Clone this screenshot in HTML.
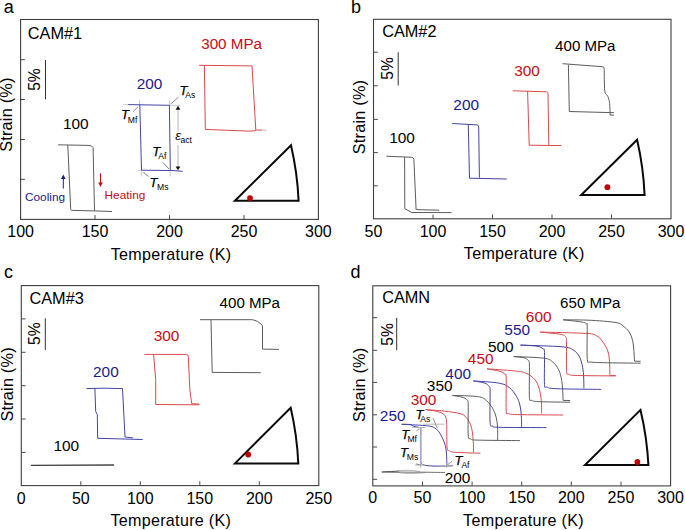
<!DOCTYPE html>
<html><head><meta charset="utf-8">
<style>
html,body{margin:0;padding:0;background:#fff;}
svg{display:block;}
text{font-family:"Liberation Sans",sans-serif;}
</style></head>
<body>
<svg width="685" height="530" viewBox="0 0 685 530">
<rect width="685" height="530" fill="#fff"/>
<text x="3.8" y="13.4" font-size="18" fill="#000">a</text>
<rect x="20.6" y="19.5" width="297.8" height="199.9" fill="none" stroke="#404040" stroke-width="1.1"/>
<g stroke="#4a4a4a" stroke-width="1"><line x1="20.6" y1="59.7" x2="24.9" y2="59.7"/><line x1="20.6" y1="99.5" x2="24.9" y2="99.5"/><line x1="20.6" y1="139.5" x2="24.9" y2="139.5"/><line x1="20.6" y1="179.3" x2="24.9" y2="179.3"/><line x1="95" y1="219.4" x2="95" y2="215.1"/><line x1="169.5" y1="219.4" x2="169.5" y2="215.1"/><line x1="244" y1="219.4" x2="244" y2="215.1"/></g>
<line x1="45.5" y1="60" x2="45.5" y2="99.2" stroke="#333" stroke-width="1"/>
<text transform="translate(39.7,79.6) rotate(-90)" font-size="15.6" text-anchor="middle" fill="#000">5%</text>
<text transform="translate(12.4,114.6) rotate(-90)" font-size="16.3" text-anchor="middle" fill="#000" letter-spacing="0.2">Strain (%)</text>
<text x="20.6" y="237.1" font-size="16" fill="#000" text-anchor="middle">100</text>
<text x="95" y="237.1" font-size="16" fill="#000" text-anchor="middle">150</text>
<text x="169.5" y="237.1" font-size="16" fill="#000" text-anchor="middle">200</text>
<text x="244" y="237.1" font-size="16" fill="#000" text-anchor="middle">250</text>
<text x="318.4" y="237.1" font-size="16" fill="#000" text-anchor="middle">300</text>
<text x="171.1" y="259.6" font-size="16.1" fill="#000" text-anchor="middle" letter-spacing="0.3">Temperature (K)</text>
<text x="27.8" y="38.8" font-size="16.3" fill="#000">CAM#1</text>
<path d="M58.2,144.8 L88,145.4 Q92.6,145.5 93.1,147.6 L94.5,210.9 L112,211.5" fill="none" stroke="#5c5c5c" stroke-width="1" stroke-linejoin="round" stroke-linecap="butt"/>
<path d="M67.8,145.1 L70.7,209.6 Q70.9,210.4 72.2,210.4 L94.5,210.9" fill="none" stroke="#5c5c5c" stroke-width="1" stroke-linejoin="round" stroke-linecap="butt"/>
<text x="75.8" y="129.2" font-size="15.4" fill="#000" text-anchor="middle">100</text>
<line x1="63.3" y1="188.5" x2="63.3" y2="178.5" stroke="#1a1a8c" stroke-width="1"/>
<path d="M63.3,174.6 L61,179 L65.6,179 Z" fill="#1a1a8c"/>
<text x="25" y="200.9" font-size="11.8" fill="#1a1a8c">Cooling</text>
<line x1="100.5" y1="173.3" x2="100.5" y2="183" stroke="#c80a14" stroke-width="1"/>
<path d="M100.5,187 L98.2,182.5 L102.8,182.5 Z" fill="#c80a14"/>
<text x="104.6" y="198.5" font-size="11.8" fill="#c80a14">Heating</text>
<g stroke="#bbb" stroke-width="0.8"><line x1="123.2" y1="104.6" x2="128.5" y2="104.6"/><line x1="139.5" y1="99.8" x2="139.5" y2="104.6"/><line x1="169.4" y1="99.8" x2="169.4" y2="105.3"/><line x1="169.4" y1="105.3" x2="180.6" y2="105.3"/><line x1="137.9" y1="170.4" x2="141.3" y2="170.4"/><line x1="141.3" y1="170.4" x2="141.3" y2="176.4"/><line x1="170.2" y1="170.4" x2="170.2" y2="176.4"/></g>
<g stroke="#555" stroke-width="0.7"><line x1="133.1" y1="111.7" x2="137.8" y2="107"/><line x1="170.8" y1="104" x2="178.4" y2="97.2"/><line x1="143.4" y1="172.5" x2="148.7" y2="176.4"/><line x1="162.8" y1="162.3" x2="169.1" y2="169.1"/></g>
<path d="M128.2,104.6 L169.4,105.3 L170.3,170.4 L182.7,171.3" fill="none" stroke="#4444a6" stroke-width="1" stroke-linejoin="round" stroke-linecap="butt"/>
<path d="M139.8,104.6 L141.5,170.2 L170.3,170.5" fill="none" stroke="#4444a6" stroke-width="1" stroke-linejoin="round" stroke-linecap="butt"/>
<text x="149.5" y="88.6" font-size="15.4" fill="#1a1a8c" text-anchor="middle">200</text>
<line x1="178" y1="109" x2="178" y2="131.4" stroke="#d0d0d0" stroke-width="1.6"/>
<line x1="178" y1="145" x2="178" y2="167" stroke="#d0d0d0" stroke-width="1.6"/>
<path d="M178,105.8 L175.6,109.8 L180.4,109.8 Z" fill="#111"/>
<path d="M178,170.2 L175.6,166.4 L180.4,166.4 Z" fill="#111"/>
<text x="121.1" y="119.2" font-size="13" font-style="italic" fill="#000" stroke="#000" stroke-width="0.25">T</text>
<text x="127.8" y="122.5" font-size="8.6" fill="#000">Mf</text>
<text x="179.4" y="94.9" font-size="13" font-style="italic" fill="#000" stroke="#000" stroke-width="0.25">T</text>
<text x="185.2" y="98.1" font-size="8.6" fill="#000">As</text>
<text x="152.2" y="156.3" font-size="13" font-style="italic" fill="#000" stroke="#000" stroke-width="0.25">T</text>
<text x="158.2" y="159.4" font-size="8.6" fill="#000">Af</text>
<text x="149.4" y="186.6" font-size="13" font-style="italic" fill="#000" stroke="#000" stroke-width="0.25">T</text>
<text x="157" y="189.5" font-size="8.6" fill="#000">Ms</text>
<text x="175.2" y="140.1" font-size="13" font-style="italic" fill="#000">ε</text>
<text x="180.5" y="142.8" font-size="8.6" fill="#000">act</text>
<path d="M199.2,65.3 L252,65.9 L255.8,130 L262,130.2" fill="none" stroke="#d94a4e" stroke-width="1" stroke-linejoin="round" stroke-linecap="butt"/>
<path d="M204.4,65.4 L205.3,129.4 L250.8,131.2 L255.8,130.5" fill="none" stroke="#d94a4e" stroke-width="1" stroke-linejoin="round" stroke-linecap="butt"/>
<line x1="258" y1="130.2" x2="266.7" y2="130.2" stroke="#aaa" stroke-width="0.8"/>
<text x="201.2" y="48.9" font-size="15.2" fill="#c80a14">300 MPa</text>
<path d="M234.9,200.8 L298.6,200.8 Q297.4,173.05 291,145.3 Z" fill="none" stroke="#0a0a0a" stroke-width="2" stroke-linejoin="miter"/>
<circle cx="250" cy="198.1" r="2.9" fill="#c00000"/>
<text x="350.9" y="13.3" font-size="18" fill="#000">b</text>
<rect x="373.5" y="19.3" width="297.5" height="199.5" fill="none" stroke="#404040" stroke-width="1.1"/>
<g stroke="#4a4a4a" stroke-width="1"><line x1="373.5" y1="52.2" x2="377.8" y2="52.2"/><line x1="373.5" y1="85.8" x2="377.8" y2="85.8"/><line x1="373.5" y1="119.4" x2="377.8" y2="119.4"/><line x1="373.5" y1="152.6" x2="377.8" y2="152.6"/><line x1="373.5" y1="185.8" x2="377.8" y2="185.8"/><line x1="433" y1="218.8" x2="433" y2="214.5"/><line x1="492.5" y1="218.8" x2="492.5" y2="214.5"/><line x1="552" y1="218.8" x2="552" y2="214.5"/><line x1="611.5" y1="218.8" x2="611.5" y2="214.5"/></g>
<line x1="398.2" y1="52.2" x2="398.2" y2="85.5" stroke="#333" stroke-width="1"/>
<text transform="translate(392.6,68.5) rotate(-90)" font-size="15.6" text-anchor="middle" fill="#000">5%</text>
<text transform="translate(364.6,117) rotate(-90)" font-size="16.3" text-anchor="middle" fill="#000" letter-spacing="0.2">Strain (%)</text>
<text x="373.5" y="236.8" font-size="16" fill="#000" text-anchor="middle">50</text>
<text x="433" y="236.8" font-size="16" fill="#000" text-anchor="middle">100</text>
<text x="492.5" y="236.8" font-size="16" fill="#000" text-anchor="middle">150</text>
<text x="552" y="236.8" font-size="16" fill="#000" text-anchor="middle">200</text>
<text x="611.5" y="236.8" font-size="16" fill="#000" text-anchor="middle">250</text>
<text x="671" y="236.8" font-size="16" fill="#000" text-anchor="middle">300</text>
<text x="524.2" y="258.6" font-size="16.1" fill="#000" text-anchor="middle" letter-spacing="0.3">Temperature (K)</text>
<text x="382.2" y="36.6" font-size="16.3" fill="#000">CAM#2</text>
<path d="M386.3,156.2 L411.8,157.3 Q413.6,157.5 413.9,159.5 L416.1,209.6 L439.2,210.2" fill="none" stroke="#5c5c5c" stroke-width="1" stroke-linejoin="round" stroke-linecap="butt"/>
<path d="M404.6,157.1 L404.8,208.7 L411.8,212.5 L451.4,212.6" fill="none" stroke="#5c5c5c" stroke-width="1" stroke-linejoin="round" stroke-linecap="butt"/>
<text x="402" y="143.3" font-size="15.4" fill="#000" text-anchor="middle">100</text>
<path d="M452.2,123.5 L476.9,124.9 Q478.6,125.2 478.7,127 L479.4,177.7" fill="none" stroke="#4444a6" stroke-width="1" stroke-linejoin="round" stroke-linecap="butt"/>
<path d="M468.3,124.5 L469.5,178.2 L506.8,179" fill="none" stroke="#4444a6" stroke-width="1" stroke-linejoin="round" stroke-linecap="butt"/>
<text x="466.2" y="109.9" font-size="15.4" fill="#1a1a8c" text-anchor="middle">200</text>
<path d="M512.9,90.8 L546.5,91.8 Q548,92 548,93.7 L548.8,145.2" fill="none" stroke="#d94a4e" stroke-width="1" stroke-linejoin="round" stroke-linecap="butt"/>
<path d="M527.6,91 L529.2,145.2 L561.6,145.6" fill="none" stroke="#d94a4e" stroke-width="1" stroke-linejoin="round" stroke-linecap="butt"/>
<text x="527" y="75.5" font-size="15.4" fill="#c80a14" text-anchor="middle">300</text>
<path d="M562.5,63.7 L602.4,66.7 Q604.2,67 604.2,68.8 C604.3,72.48 604.2,86.33 604.8,90.9 C605.4,95.47 607,94.12 607.8,96.2 C608.6,98.28 609.22,100.27 609.6,103.4 C609.98,106.53 610.02,113.07 610.1,115 L614,115.2" fill="none" stroke="#5c5c5c" stroke-width="1" stroke-linejoin="round" stroke-linecap="butt"/>
<path d="M568.4,65 L569.3,111.5 L614,112.7" fill="none" stroke="#5c5c5c" stroke-width="1" stroke-linejoin="round" stroke-linecap="butt"/>
<text x="555.1" y="51" font-size="15.1" fill="#000">400 MPa</text>
<path d="M581.2,195.1 L644.6,195.1 Q643.45,167.4 637.1,139.7 Z" fill="none" stroke="#0a0a0a" stroke-width="2" stroke-linejoin="miter"/>
<circle cx="607.4" cy="187.2" r="2.9" fill="#c00000"/>
<text x="3.9" y="277.6" font-size="18" fill="#000">c</text>
<rect x="21.3" y="285.6" width="297.5" height="200" fill="none" stroke="#404040" stroke-width="1.1"/>
<g stroke="#4a4a4a" stroke-width="1"><line x1="21.3" y1="318.9" x2="25.6" y2="318.9"/><line x1="21.3" y1="352.3" x2="25.6" y2="352.3"/><line x1="21.3" y1="385.7" x2="25.6" y2="385.7"/><line x1="21.3" y1="419" x2="25.6" y2="419"/><line x1="21.3" y1="452.4" x2="25.6" y2="452.4"/><line x1="80.8" y1="485.6" x2="80.8" y2="481.3"/><line x1="140.3" y1="485.6" x2="140.3" y2="481.3"/><line x1="199.8" y1="485.6" x2="199.8" y2="481.3"/><line x1="259.3" y1="485.6" x2="259.3" y2="481.3"/></g>
<line x1="45.3" y1="318.3" x2="45.3" y2="350" stroke="#333" stroke-width="1"/>
<text transform="translate(40.4,333.7) rotate(-90)" font-size="15.6" text-anchor="middle" fill="#000">5%</text>
<text transform="translate(12.8,384.4) rotate(-90)" font-size="16.3" text-anchor="middle" fill="#000" letter-spacing="0.2">Strain (%)</text>
<text x="21.3" y="503.5" font-size="16" fill="#000" text-anchor="middle">0</text>
<text x="80.8" y="503.5" font-size="16" fill="#000" text-anchor="middle">50</text>
<text x="140.3" y="503.5" font-size="16" fill="#000" text-anchor="middle">100</text>
<text x="199.8" y="503.5" font-size="16" fill="#000" text-anchor="middle">150</text>
<text x="259.3" y="503.5" font-size="16" fill="#000" text-anchor="middle">200</text>
<text x="318.8" y="503.5" font-size="16" fill="#000" text-anchor="middle">250</text>
<text x="170.8" y="525.6" font-size="16.1" fill="#000" text-anchor="middle" letter-spacing="0.3">Temperature (K)</text>
<text x="29.5" y="303.9" font-size="16.3" fill="#000">CAM#3</text>
<path d="M30.9,465.3 L114,465" fill="none" stroke="#444" stroke-width="1.3" stroke-linejoin="round" stroke-linecap="butt"/>
<text x="66.3" y="450.5" font-size="15.4" fill="#000" text-anchor="middle">100</text>
<path d="M86.4,388.6 L104,388.2 L122.5,388.6 L125,437 L133,437.9" fill="none" stroke="#4444a6" stroke-width="1" stroke-linejoin="round" stroke-linecap="butt"/>
<path d="M94.9,388.6 L95.7,411.4 L97.3,414.6 L97.7,438.3 L142.6,439.5" fill="none" stroke="#4444a6" stroke-width="1" stroke-linejoin="round" stroke-linecap="butt"/>
<text x="105.9" y="376.6" font-size="15.4" fill="#1a1a8c" text-anchor="middle">200</text>
<path d="M144.5,354.4 L186.6,354.4 Q188.2,354.6 188.3,356.3 L189.8,389.2 L191.7,403.7 L199.4,404.1" fill="none" stroke="#d94a4e" stroke-width="1" stroke-linejoin="round" stroke-linecap="butt"/>
<path d="M153.6,354.4 L155.7,379.6 L155.7,404.5 L199.4,404.8" fill="none" stroke="#d94a4e" stroke-width="1" stroke-linejoin="round" stroke-linecap="butt"/>
<text x="166.5" y="340.8" font-size="15.4" fill="#c80a14" text-anchor="middle">300</text>
<path d="M200,319.7 L252.6,319.7 Q257.7,320.5 261.5,324.5 Q262.5,325.5 262.5,327 L262.5,349.1 L279,349.4" fill="none" stroke="#5c5c5c" stroke-width="1" stroke-linejoin="round" stroke-linecap="butt"/>
<path d="M211,319.7 L212.2,372.4 L260.8,372.7" fill="none" stroke="#5c5c5c" stroke-width="1" stroke-linejoin="round" stroke-linecap="butt"/>
<text x="219.6" y="307.8" font-size="15.1" fill="#000">400 MPa</text>
<path d="M235,463.4 L298.3,463.4 Q297.1,435.55 290.7,407.7 Z" fill="none" stroke="#0a0a0a" stroke-width="2" stroke-linejoin="miter"/>
<circle cx="248.2" cy="454.5" r="2.9" fill="#c00000"/>
<text x="350.6" y="277.5" font-size="18" fill="#000">d</text>
<rect x="372.8" y="285.8" width="297.8" height="200.1" fill="none" stroke="#404040" stroke-width="1.1"/>
<g stroke="#4a4a4a" stroke-width="1"><line x1="372.8" y1="317.7" x2="377.1" y2="317.7"/><line x1="372.8" y1="350.3" x2="377.1" y2="350.3"/><line x1="372.8" y1="382.4" x2="377.1" y2="382.4"/><line x1="372.8" y1="414.8" x2="377.1" y2="414.8"/><line x1="372.8" y1="447" x2="377.1" y2="447"/><line x1="372.8" y1="479.3" x2="377.1" y2="479.3"/><line x1="422.5" y1="485.9" x2="422.5" y2="481.6"/><line x1="472.1" y1="485.9" x2="472.1" y2="481.6"/><line x1="521.7" y1="485.9" x2="521.7" y2="481.6"/><line x1="571.3" y1="485.9" x2="571.3" y2="481.6"/><line x1="621" y1="485.9" x2="621" y2="481.6"/></g>
<line x1="396.7" y1="317.9" x2="396.7" y2="350.2" stroke="#333" stroke-width="1"/>
<text transform="translate(392.6,334.5) rotate(-90)" font-size="15.6" text-anchor="middle" fill="#000">5%</text>
<text transform="translate(364.6,384.8) rotate(-90)" font-size="16.3" text-anchor="middle" fill="#000" letter-spacing="0.2">Strain (%)</text>
<text x="372.8" y="503.4" font-size="16" fill="#000" text-anchor="middle">0</text>
<text x="422.43" y="503.4" font-size="16" fill="#000" text-anchor="middle">50</text>
<text x="472.06" y="503.4" font-size="16" fill="#000" text-anchor="middle">100</text>
<text x="521.69" y="503.4" font-size="16" fill="#000" text-anchor="middle">150</text>
<text x="571.32" y="503.4" font-size="16" fill="#000" text-anchor="middle">200</text>
<text x="620.95" y="503.4" font-size="16" fill="#000" text-anchor="middle">250</text>
<text x="670.58" y="503.4" font-size="16" fill="#000" text-anchor="middle">300</text>
<text x="523.5" y="525.6" font-size="16.1" fill="#000" text-anchor="middle" letter-spacing="0.3">Temperature (K)</text>
<text x="382.2" y="303.1" font-size="16.3" fill="#000">CAMN</text>
<path d="M392,471.6 C392.83,471.43 394.83,470.8 397,470.6 C399.17,470.4 402.33,470.4 405,470.4 C407.67,470.4 410.5,470.4 413,470.6 C415.5,470.8 418.83,471.43 420,471.6" fill="none" stroke="#b4b4b4" stroke-width="1" stroke-linejoin="round" stroke-linecap="butt"/>
<path d="M398,472.4 C399,472.55 401.5,473.13 404,473.3 C406.5,473.47 410.17,473.43 413,473.4 C415.83,473.37 418.83,473.27 421,473.1 C423.17,472.93 425.17,472.52 426,472.4" fill="none" stroke="#b4b4b4" stroke-width="1" stroke-linejoin="round" stroke-linecap="butt"/>
<path d="M381.6,472 C383.33,471.98 389.1,471.9 392,471.9 C394.9,471.9 397.83,471.98 399,472" fill="none" stroke="#2a2a2a" stroke-width="1.2" stroke-linejoin="round" stroke-linecap="butt"/>
<path d="M399,472 C400.83,472.03 406.17,472.17 410,472.2 C413.83,472.23 416.17,472.15 422,472.2 C427.83,472.25 441.17,472.45 445,472.5" fill="none" stroke="#707070" stroke-width="1" stroke-linejoin="round" stroke-linecap="butt"/>
<text x="457.5" y="482.7" font-size="15.4" fill="#000" text-anchor="middle">200</text>
<path d="M401.7,424.3 C403.08,424.33 408.03,424.18 410,424.5 C411.97,424.82 411.93,425.7 413.5,426.2 C415.07,426.7 418.42,427.28 419.4,427.5" fill="none" stroke="#4444a6" stroke-width="1" stroke-linejoin="round" stroke-linecap="butt"/>
<line x1="420.8" y1="427.5" x2="420.8" y2="463" stroke="#a8a8cc" stroke-width="1.8"/>
<path d="M420.8,462.9 C421.2,463.22 421.85,464.32 423.2,464.8 C424.55,465.28 426.1,465.58 428.9,465.8 C431.7,466.02 436,466.1 440,466.1 C444,466.1 450.75,465.85 452.9,465.8" fill="none" stroke="#4444a6" stroke-width="1" stroke-linejoin="round" stroke-linecap="butt"/>
<path d="M401.7,424.3 C404.67,424.45 414.88,424.9 419.5,425.2 C424.12,425.5 426.93,425.68 429.4,426.1 C431.87,426.52 432.77,426.82 434.3,427.7 C435.83,428.58 437.28,429.77 438.6,431.4 C439.92,433.03 441.08,435.15 442.2,437.5 C443.32,439.85 444.58,442.73 445.3,445.5 C446.02,448.27 446.23,450.8 446.5,454.1 C446.77,457.4 446.83,463.43 446.9,465.3" fill="none" stroke="#4444a6" stroke-width="1" stroke-linejoin="round" stroke-linecap="butt"/>
<path d="M425.7,409.6 C427.33,409.85 432.85,410.53 435.5,411.1 C438.15,411.67 439.97,412.18 441.6,413 C443.23,413.82 444.48,414.67 445.3,416 C446.12,417.33 446.25,418.75 446.5,421 C446.75,423.25 446.7,425 446.8,429.5 C446.9,434 446.73,444.48 447.1,448 C447.47,451.52 447.67,449.88 449,450.6 C450.33,451.32 449.87,451.87 455.1,452.3 C460.33,452.73 476.18,453.05 480.4,453.2" fill="none" stroke="#d94a4e" stroke-width="1" stroke-linejoin="round" stroke-linecap="butt"/>
<path d="M425.7,409.6 C428.77,409.85 438.38,410.43 444.1,411.1 C449.82,411.77 456.32,412.57 460,413.6 C463.68,414.63 464.45,415.47 466.2,417.3 C467.95,419.13 469.48,422.15 470.5,424.6 C471.52,427.05 471.83,429.13 472.3,432 C472.77,434.87 473.1,438.42 473.3,441.8 C473.5,445.18 473.47,450.55 473.5,452.3" fill="none" stroke="#d94a4e" stroke-width="1" stroke-linejoin="round" stroke-linecap="butt"/>
<path d="M452.4,395.4 C454,395.7 459.57,396.47 462,397.2 C464.43,397.93 465.97,398.5 467,399.8 C468.03,401.1 468,399.17 468.2,405 C468.4,410.83 467.77,429.15 468.2,434.8 C468.63,440.45 469.2,438.02 470.8,438.9 C472.4,439.78 469.62,439.82 477.8,440.1 C485.98,440.38 512.88,440.52 519.9,440.6" fill="none" stroke="#5c5c5c" stroke-width="1" stroke-linejoin="round" stroke-linecap="butt"/>
<path d="M452.4,395.4 C456.63,395.6 472.1,395.72 477.8,396.6 C483.5,397.48 484.12,398.72 486.6,400.7 C489.08,402.68 491.1,405.73 492.7,408.5 C494.3,411.27 495.38,414.08 496.2,417.3 C497.02,420.52 497.37,424 497.6,427.8 C497.83,431.6 497.6,438.05 497.6,440.1" fill="none" stroke="#5c5c5c" stroke-width="1" stroke-linejoin="round" stroke-linecap="butt"/>
<path d="M473.4,380.9 C475.3,381.27 482.17,382.15 484.8,383.1 C487.43,384.05 488.32,385.28 489.2,386.6 C490.08,387.92 489.95,385 490.1,391 C490.25,397 489.67,416.75 490.1,422.6 C490.53,428.45 491.25,425.32 492.7,426.1 C494.15,426.88 489.85,427.05 498.8,427.3 C507.75,427.55 538.47,427.55 546.4,427.6" fill="none" stroke="#4444a6" stroke-width="1" stroke-linejoin="round" stroke-linecap="butt"/>
<path d="M473.4,380.9 C477.63,381.27 492.82,382 498.8,383.1 C504.78,384.2 506.37,385.3 509.3,387.5 C512.23,389.7 514.63,393.38 516.4,396.3 C518.17,399.22 519.08,401.8 519.9,405 C520.72,408.2 521.02,411.85 521.3,415.5 C521.58,419.15 521.55,425 521.6,426.9" fill="none" stroke="#4444a6" stroke-width="1" stroke-linejoin="round" stroke-linecap="butt"/>
<path d="M487.1,368.9 C489.18,369.28 496.65,370.35 499.6,371.2 C502.55,372.05 503.7,372.87 504.8,374 C505.9,375.13 505.97,371.92 506.2,378 C506.43,384.08 505.82,404.58 506.2,410.5 C506.58,416.42 506.62,412.82 508.5,413.5 C510.38,414.18 508.4,414.35 517.5,414.6 C526.6,414.85 555.5,414.93 563.1,415" fill="none" stroke="#d94a4e" stroke-width="1" stroke-linejoin="round" stroke-linecap="butt"/>
<path d="M487.1,368.9 C491.52,369.22 507.15,370.1 513.6,370.8 C520.05,371.5 522.3,371.68 525.8,373.1 C529.3,374.52 532.4,376.82 534.6,379.3 C536.8,381.78 537.88,384.5 539,388 C540.12,391.5 540.87,396.03 541.3,400.3 C541.73,404.57 541.55,411.38 541.6,413.6" fill="none" stroke="#d94a4e" stroke-width="1" stroke-linejoin="round" stroke-linecap="butt"/>
<path d="M513.7,356.5 C515.42,356.72 521.58,357.15 524,357.8 C526.42,358.45 527.3,359.2 528.2,360.4 C529.1,361.6 529.2,358.92 529.4,365 C529.6,371.08 529.05,391 529.4,396.9 C529.75,402.8 529.68,399.6 531.5,400.4 C533.32,401.2 533.87,401.4 540.3,401.7 C546.73,402 565.13,402.12 570.1,402.2" fill="none" stroke="#5c5c5c" stroke-width="1" stroke-linejoin="round" stroke-linecap="butt"/>
<path d="M513.7,356.5 C518.72,356.78 537.32,357.3 543.8,358.2 C550.28,359.1 550.12,359.97 552.6,361.9 C555.08,363.83 557.18,366.73 558.7,369.8 C560.22,372.87 561.03,376.8 561.7,380.3 C562.37,383.8 562.47,387.45 562.7,390.8 C562.93,394.15 563.03,398.8 563.1,400.4" fill="none" stroke="#5c5c5c" stroke-width="1" stroke-linejoin="round" stroke-linecap="butt"/>
<path d="M563.1,400.4 L570.1,400.5" fill="none" stroke="#5c5c5c" stroke-width="1" stroke-linejoin="round" stroke-linecap="butt"/>
<path d="M520.5,345.1 C523.25,345.28 533.25,345.57 537,346.2 C540.75,346.83 541.75,347.85 543,348.9 C544.25,349.95 544.25,346.58 544.5,352.5 C544.75,358.42 544.08,378.65 544.5,384.4 C544.92,390.15 545.07,386.28 547,387 C548.93,387.72 547.05,388.3 556.1,388.7 C565.15,389.1 593.77,389.28 601.3,389.4" fill="none" stroke="#4444a6" stroke-width="1" stroke-linejoin="round" stroke-linecap="butt"/>
<path d="M520.5,345.1 C527.42,345.38 553.22,345.98 562,346.8 C570.78,347.62 570.28,348.33 573.2,350 C576.12,351.67 577.92,353.88 579.5,356.8 C581.08,359.72 582,363.97 582.7,367.5 C583.4,371.03 583.5,374.52 583.7,378 C583.9,381.48 583.87,386.67 583.9,388.4" fill="none" stroke="#4444a6" stroke-width="1" stroke-linejoin="round" stroke-linecap="butt"/>
<path d="M540.3,332.1 C543.6,332.45 555.9,333.45 560.1,334.2 C564.3,334.95 564.43,335.38 565.5,336.6 C566.57,337.82 566.32,335.85 566.5,341.5 C566.68,347.15 566.27,365.03 566.6,370.5 C566.93,375.97 566.68,373.47 568.5,374.3 C570.32,375.13 569.63,375.23 577.5,375.5 C585.37,375.77 609.33,375.83 615.7,375.9" fill="none" stroke="#d94a4e" stroke-width="1" stroke-linejoin="round" stroke-linecap="butt"/>
<path d="M540.3,332.1 C547.97,332.32 576.88,332.77 586.3,333.4 C595.72,334.03 594.18,334.67 596.8,335.9 C599.42,337.13 600.25,338.52 602,340.8 C603.75,343.08 606.07,346.4 607.3,349.6 C608.53,352.8 608.97,355.63 609.4,360 C609.83,364.37 609.82,373.17 609.9,375.8" fill="none" stroke="#d94a4e" stroke-width="1" stroke-linejoin="round" stroke-linecap="butt"/>
<path d="M609.9,375.6 L615.7,375.6" fill="none" stroke="#d94a4e" stroke-width="1" stroke-linejoin="round" stroke-linecap="butt"/>
<path d="M563.2,319.8 C566.17,320.15 577.15,321.27 581,321.9 C584.85,322.53 585.27,322.78 586.3,323.6 C587.33,324.42 587.03,320.83 587.2,326.8 C587.37,332.77 586.68,353.53 587.3,359.4 C587.92,365.27 588.15,361.45 590.9,362 C593.65,362.55 595.52,362.5 603.8,362.7 C612.08,362.9 634.47,363.12 640.6,363.2" fill="none" stroke="#5c5c5c" stroke-width="1" stroke-linejoin="round" stroke-linecap="butt"/>
<path d="M563.2,319.8 C567.05,319.85 579.53,319.87 586.3,320.1 C593.07,320.33 598.55,320.73 603.8,321.2 C609.05,321.67 614.58,322.12 617.8,322.9 C621.02,323.68 621.2,324.38 623.1,325.9 C625,327.42 627.6,329.52 629.2,332 C630.8,334.48 631.92,337.58 632.7,340.8 C633.48,344.02 633.6,347.93 633.9,351.3 C634.2,354.67 634.4,359.38 634.5,361" fill="none" stroke="#5c5c5c" stroke-width="1" stroke-linejoin="round" stroke-linecap="butt"/>
<path d="M634.5,361.2 L640.6,361.3" fill="none" stroke="#5c5c5c" stroke-width="1" stroke-linejoin="round" stroke-linecap="butt"/>
<g stroke="#aaa" stroke-width="0.8"><line x1="423.2" y1="424.2" x2="444.7" y2="424.2"/><line x1="412" y1="427.5" x2="425.6" y2="427.5"/><line x1="415" y1="465" x2="425" y2="465"/><line x1="420.8" y1="463" x2="420.8" y2="468"/><line x1="446.7" y1="463" x2="446.7" y2="468"/><line x1="440" y1="465.9" x2="452" y2="465.9"/></g>
<g stroke="#666" stroke-width="0.7"><line x1="433" y1="417.9" x2="437.3" y2="428.3"/><line x1="416.5" y1="430.8" x2="419.5" y2="428.9"/><line x1="415.9" y1="463.9" x2="420.8" y2="465.1"/><line x1="447.8" y1="464.5" x2="452" y2="461.4"/></g>
<text x="415.4" y="418.5" font-size="13" font-style="italic" fill="#000" stroke="#000" stroke-width="0.25">T</text>
<text x="420.3" y="421.6" font-size="8.6" fill="#000">As</text>
<text x="401.3" y="438.7" font-size="13" font-style="italic" fill="#000" stroke="#000" stroke-width="0.25">T</text>
<text x="407.4" y="441.8" font-size="8.6" fill="#000">Mf</text>
<text x="400" y="457.1" font-size="13" font-style="italic" fill="#000" stroke="#000" stroke-width="0.25">T</text>
<text x="406.8" y="460.2" font-size="8.6" fill="#000">Ms</text>
<text x="454.6" y="465.1" font-size="13" font-style="italic" fill="#000" stroke="#000" stroke-width="0.25">T</text>
<text x="461.4" y="467.6" font-size="8.6" fill="#000">Af</text>
<text x="392.7" y="421.2" font-size="15.4" fill="#1a1a8c" text-anchor="middle">250</text>
<text x="423.5" y="405.4" font-size="15.4" fill="#c80a14" text-anchor="middle">300</text>
<text x="439.7" y="391" font-size="15.4" fill="#000" text-anchor="middle">350</text>
<text x="458.2" y="379.2" font-size="15.4" fill="#1a1a8c" text-anchor="middle">400</text>
<text x="480.7" y="364.2" font-size="15.4" fill="#c80a14" text-anchor="middle">450</text>
<text x="500.8" y="352.3" font-size="15.4" fill="#000" text-anchor="middle">500</text>
<text x="517.2" y="334.7" font-size="15.4" fill="#1a1a8c" text-anchor="middle">550</text>
<text x="538.7" y="321.6" font-size="15.4" fill="#c80a14" text-anchor="middle">600</text>
<text x="560.1" y="308" font-size="15.1" fill="#000">650 MPa</text>
<path d="M585,465.1 L648.4,465.1 Q647.05,437.5 640.5,409.9 Z" fill="none" stroke="#0a0a0a" stroke-width="2" stroke-linejoin="miter"/>
<circle cx="637.4" cy="462" r="2.9" fill="#c00000"/>
</svg>
</body></html>
